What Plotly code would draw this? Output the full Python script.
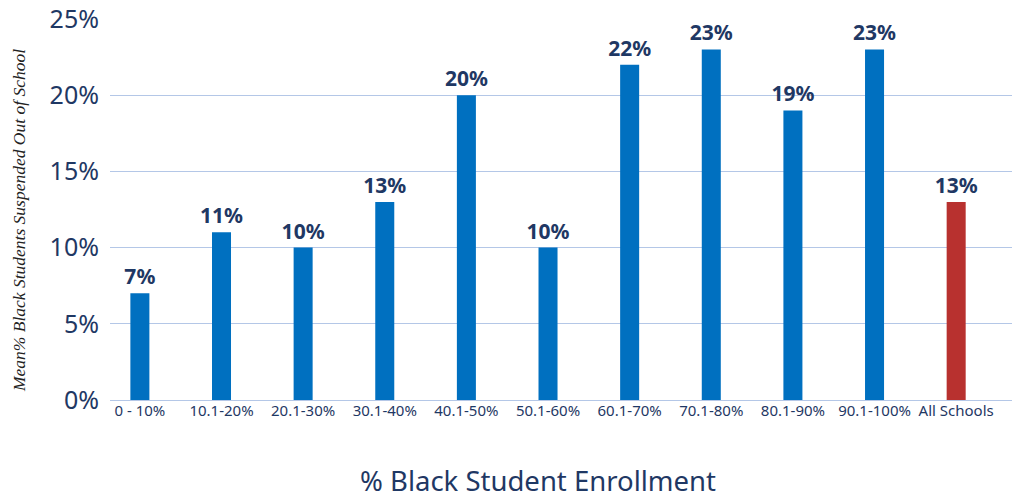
import plotly.graph_objects as go

categories = ["0 - 10%", "10.1-20%", "20.1-30%", "30.1-40%", "40.1-50%", "50.1-60%",
              "60.1-70%", "70.1-80%", "80.1-90%", "90.1-100%", "All Schools"]
values = [7, 11, 10, 13, 20, 10, 22, 23, 19, 23, 13]
colors = ["#0070C0"] * 10 + ["#B8312F"]
y_ticks = [0, 5, 10, 15, 20, 25]
y_tick_labels = ["0%", "5%", "10%", "15%", "20%", "25%"]

navy = "#1F3864"

fig = go.Figure(go.Bar(
    x=categories, y=values,
    marker=dict(color=colors, line=dict(width=0)),
    text=[f"{v}%" for v in values],
    textposition="outside",
    constraintext="none",
    textfont=dict(family="Noto Sans", size=21, color=navy, weight="bold"),
    cliponaxis=False,
))

fig.update_layout(
    width=1020, height=498,
    margin=dict(l=110, r=8, t=19, b=98, autoexpand=False),
    paper_bgcolor="white", plot_bgcolor="white",
    bargap=0.767,
    showlegend=False,
    xaxis=dict(
        range=[-0.366, 10.684],
        tickfont=dict(family="Noto Sans", size=15, color=navy),
        showgrid=False, showline=False, ticks="", automargin=False,
    ),
    yaxis=dict(
        range=[0, 25], tickvals=y_ticks, ticktext=y_tick_labels,
        tickfont=dict(family="Noto Sans", size=25, color=navy),
        gridcolor="#B4C7E7", gridwidth=1,
        zeroline=True, zerolinecolor="#B4C7E7", zerolinewidth=1,
        ticks="", ticklabelstandoff=10, automargin=False,
    ),
    annotations=[
        dict(
            text="% Black Student Enrollment", xref="paper", yref="paper",
            x=0.474, y=-0.21, xanchor="center", yanchor="middle", showarrow=False,
            font=dict(family="Noto Sans", size=27.5, color=navy),
        ),
        dict(
            text="Mean% Black Students Suspended Out of School", xref="paper", yref="paper",
            x=-0.101, y=0.472, xanchor="center", yanchor="middle", showarrow=False,
            textangle=-90,
            font=dict(family="Liberation Serif", size=17.5, color="#222222", style="italic"),
        ),
    ],
)

fig.write_html("out.html", post_script="document.body.style.margin='0';",
               config={"displayModeBar": False})
